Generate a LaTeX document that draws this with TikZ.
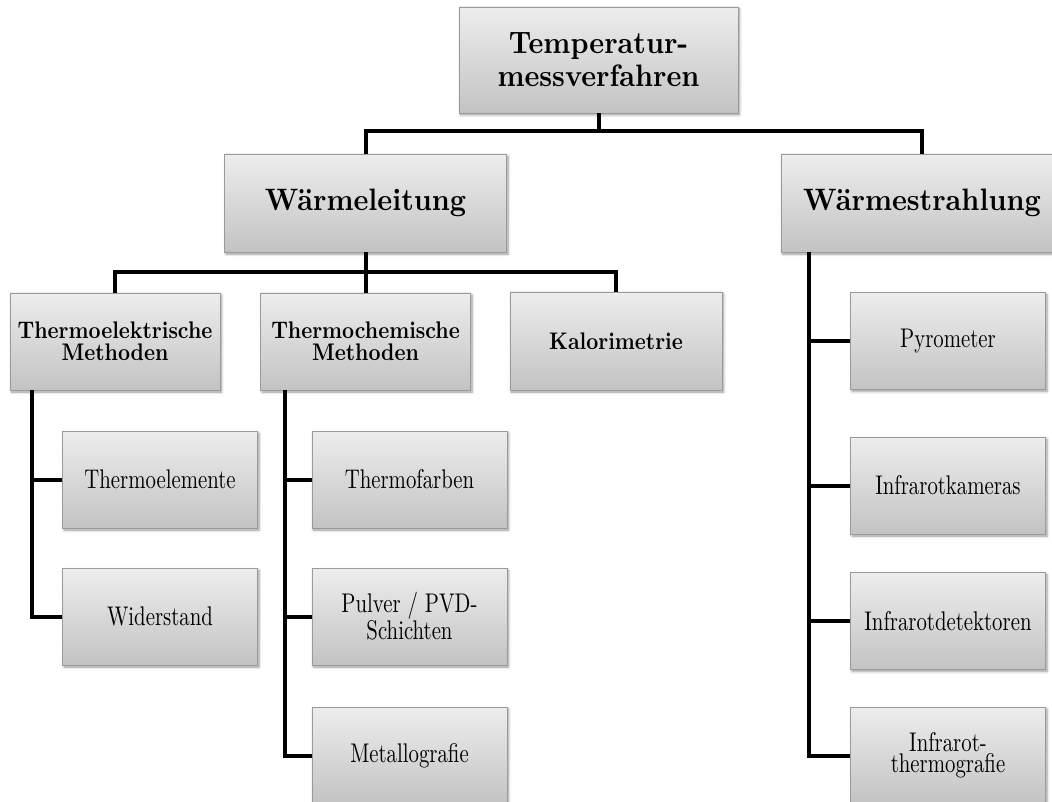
\documentclass[tikz,border=0pt]{standalone}
\usepackage{fontspec}
\usetikzlibrary{shadows.blur}

% Condensed Latin Modern (10pt design) faces for the three levels of the tree
\newfontfamily\headfont{lmroman10-regular.otf}[FakeStretch=0.91, BoldFont=lmroman10-bold.otf]
\newfontfamily\midfont{lmroman10-regular.otf}[FakeStretch=0.87, BoldFont=lmroman10-bold.otf]
\newfontfamily\leaffont{lmroman10-regular.otf}[FakeStretch=0.77, BoldFont=lmroman10-bold.otf]

\definecolor{boxtop}{HTML}{EDEDED}
\definecolor{boxbottom}{HTML}{C3C3C3}
\definecolor{boxline}{HTML}{9A9A9A}

\tikzset{
  card/.style={draw=boxline, line width=0.8pt, top color=boxtop,
    bottom color=boxbottom, inner sep=0pt, align=center,
    blur shadow={shadow xshift=1.5pt, shadow yshift=-2pt,
      shadow blur radius=2.5pt, shadow blur steps=6, shadow opacity=40}},
  headbox/.style={card, minimum width=282pt, minimum height=98pt,
    font=\headfont\bfseries\fontsize{31}{33}\selectfont},
  midbox/.style={card, minimum width=210pt, minimum height=97pt,
    font=\midfont\bfseries\fontsize{24}{22}\selectfont},
  leafbox/.style={card, minimum width=195pt, minimum height=97pt,
    font=\leaffont\fontsize{27}{21}\selectfont},
  link/.style={line width=4pt, black}
}

\begin{document}
\begin{tikzpicture}[x=1pt, y=-1pt]
  \useasboundingbox (0,0) rectangle (1052,802);

  % root
  \node[headbox, minimum width=279pt, minimum height=106pt] (root) at (598.5,60)
    {Temperatur-\\messverfahren};

  % main branches
  \node[headbox] (wl) at (365.5,203) {Wärmeleitung};
  \node[headbox] (ws) at (922,203) {Wärmestrahlung};

  % methods of thermal conduction
  \node[midbox] (te) at (115,341.5) {Thermoelektrische\\Methoden};
  \node[midbox] (tc) at (365.5,341.5) {Thermochemische\\Methoden};
  \node[midbox, minimum width=212pt, minimum height=98pt] (ka) at (616,341) {Kalorimetrie};

  % leaves
  \node[leafbox] (te1) at (160,479.5) {Thermoelemente};
  \node[leafbox] (te2) at (160,616.5) {Widerstand};
  \node[leafbox] (tc1) at (409.5,479.5) {Thermofarben};
  \node[leafbox] (tc2) at (409.5,616.5) {Pulver / PVD-\\Schichten};
  \node[leafbox] (tc3) at (409.5,755.5) {Metallografie};
  \node[leafbox] (ws1) at (948,341) {Pyrometer};
  \node[leafbox] (ws2) at (948,485.5) {Infrarotkameras};
  \node[leafbox] (ws3) at (948,621) {Infrarotdetektoren};
  \node[leafbox] (ws4) at (948,755.5) {Infrarot-\\thermografie};

  % bus lines and trunks
  \coordinate (busA) at (0,131);
  \coordinate (busB) at (0,272);
  \coordinate (teT) at (32,0);
  \coordinate (tcT) at (285,0);
  \coordinate (wsT) at (809,0);

  \draw[link] (root.south) -- (root.south |- busA);
  \draw[link] (wl.north) |- (root.south |- busA) -| (ws.north);

  \draw[link] (wl.south) -- (tc.north);
  \draw[link] (te.north) |- (wl.south |- busB) -| (ka.north);

  \draw[link] (te.south -| teT) |- (te2.west);
  \draw[link] (te1.west) -- (te1.west -| teT);

  \draw[link] (tc.south -| tcT) |- (tc3.west);
  \draw[link] (tc1.west) -- (tc1.west -| tcT);
  \draw[link] (tc2.west) -- (tc2.west -| tcT);

  \draw[link] (ws.south -| wsT) |- (ws4.west);
  \draw[link] (ws1.west) -- (ws1.west -| wsT);
  \draw[link] (ws2.west) -- (ws2.west -| wsT);
  \draw[link] (ws3.west) -- (ws3.west -| wsT);
\end{tikzpicture}
\end{document}
